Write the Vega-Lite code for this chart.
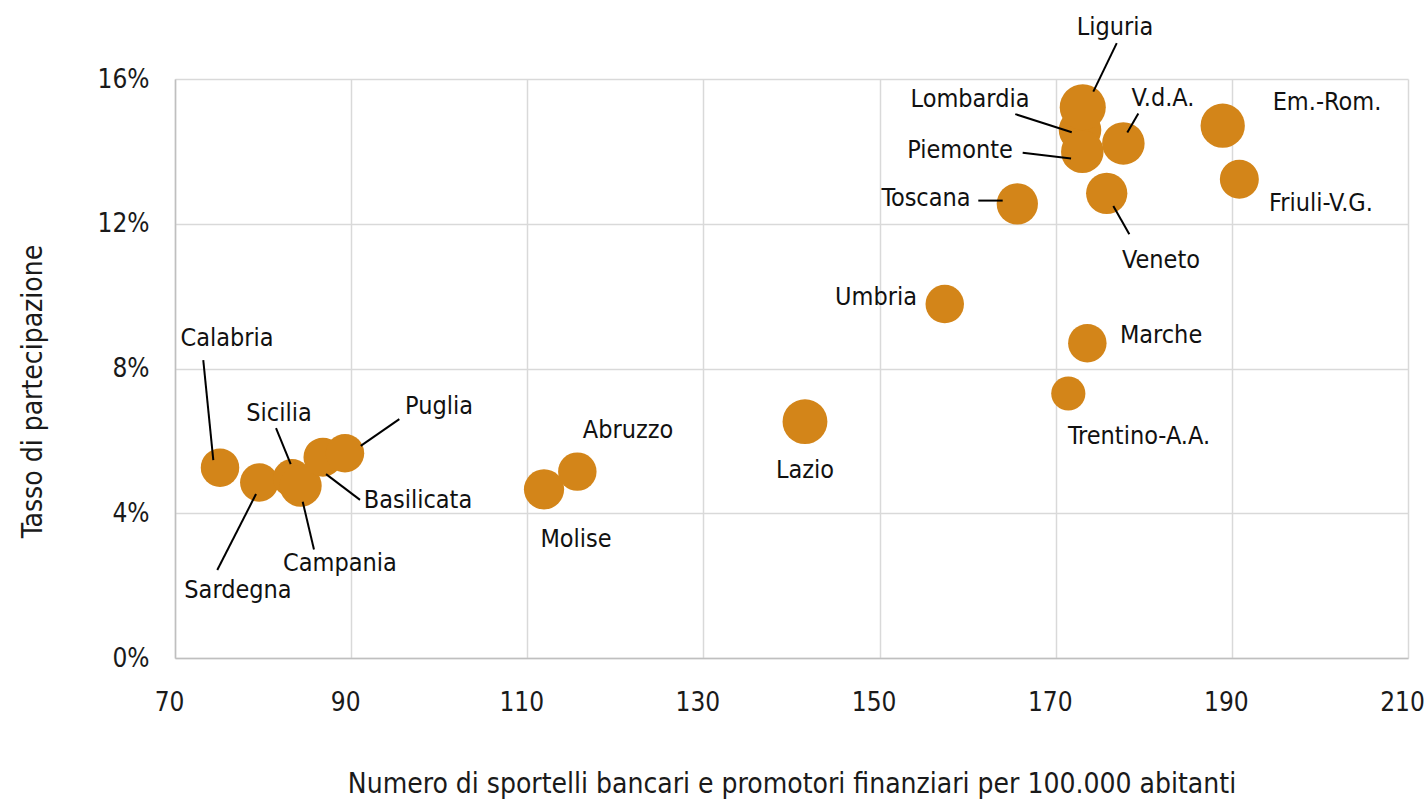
{
  "$schema": "https://vega.github.io/schema/vega-lite/v6.json",
  "autosize": "none",
  "width": 1233,
  "height": 579,
  "padding": {"left": 175, "top": 79, "right": 19, "bottom": 145},
  "background": "white",
  "config": {
    "view": {"stroke": null},
    "font": "DejaVu Sans Condensed, Liberation Sans Narrow, Roboto Condensed, sans-serif",
    "axis": {"labelFont": "DejaVu Sans Condensed, Liberation Sans Narrow, Roboto Condensed, sans-serif", "titleFont": "DejaVu Sans Condensed, Liberation Sans Narrow, Roboto Condensed, sans-serif", "labelColor": "#1a1a1a", "titleColor": "#1a1a1a", "titleFontWeight": "normal"}
  },
  "datasets": {
    "regioni": [
      {"regione": "Calabria", "sportelli": 75.11, "tasso": 0.0526, "dim": 471, "lx": 75.9, "ly": 0.0884},
      {"regione": "Sardegna", "sportelli": 79.57, "tasso": 0.0485, "dim": 471, "lx": 77.15, "ly": 0.0188},
      {"regione": "Sicilia", "sportelli": 83.28, "tasso": 0.0497, "dim": 462, "lx": 81.81, "ly": 0.0677},
      {"regione": "Campania", "sportelli": 84.27, "tasso": 0.0476, "dim": 562, "lx": 88.73, "ly": 0.0263},
      {"regione": "Basilicata", "sportelli": 86.8, "tasso": 0.0555, "dim": 484, "lx": 97.59, "ly": 0.0437},
      {"regione": "Puglia", "sportelli": 89.3, "tasso": 0.0566, "dim": 471, "lx": 99.98, "ly": 0.0696},
      {"regione": "Molise", "sportelli": 111.9, "tasso": 0.0466, "dim": 515, "lx": 115.53, "ly": 0.0329},
      {"regione": "Abruzzo", "sportelli": 115.68, "tasso": 0.0515, "dim": 471, "lx": 121.44, "ly": 0.063},
      {"regione": "Lazio", "sportelli": 141.53, "tasso": 0.0653, "dim": 640, "lx": 141.53, "ly": 0.0519},
      {"regione": "Umbria", "sportelli": 157.4, "tasso": 0.0978, "dim": 471, "lx": 149.6, "ly": 0.0998},
      {"regione": "Toscana", "sportelli": 165.64, "tasso": 0.1255, "dim": 543, "lx": 155.27, "ly": 0.1271},
      {"regione": "Trentino-A.A.", "sportelli": 171.43, "tasso": 0.0731, "dim": 372, "lx": 179.46, "ly": 0.0613},
      {"regione": "Marche", "sportelli": 173.59, "tasso": 0.087, "dim": 471, "lx": 181.96, "ly": 0.0893},
      {"regione": "Lombardia", "sportelli": 172.76, "tasso": 0.1459, "dim": 576, "lx": 160.27, "ly": 0.1545},
      {"regione": "Piemonte", "sportelli": 173.02, "tasso": 0.1399, "dim": 576, "lx": 159.13, "ly": 0.1404},
      {"regione": "Liguria", "sportelli": 173.07, "tasso": 0.1522, "dim": 676, "lx": 176.73, "ly": 0.1744},
      {"regione": "V.d.A.", "sportelli": 177.68, "tasso": 0.1422, "dim": 576, "lx": 182.18, "ly": 0.1547},
      {"regione": "Veneto", "sportelli": 175.79, "tasso": 0.1284, "dim": 543, "lx": 181.96, "ly": 0.11},
      {"regione": "Em.-Rom.", "sportelli": 188.96, "tasso": 0.1471, "dim": 625, "lx": 200.8, "ly": 0.1536},
      {"regione": "Friuli-V.G.", "sportelli": 190.85, "tasso": 0.1323, "dim": 484, "lx": 200.12, "ly": 0.1257}
    ],
    "richiami": [
      {"regione": "Calabria", "x1": 73.21, "y1": 0.0823, "x2": 74.35, "y2": 0.0547},
      {"regione": "Sicilia", "x1": 81.47, "y1": 0.0635, "x2": 83.14, "y2": 0.0536},
      {"regione": "Puglia", "x1": 95.47, "y1": 0.066, "x2": 91.09, "y2": 0.0586},
      {"regione": "Basilicata", "x1": 91.01, "y1": 0.0437, "x2": 87.15, "y2": 0.0508},
      {"regione": "Campania", "x1": 85.78, "y1": 0.03, "x2": 84.5, "y2": 0.0432},
      {"regione": "Sardegna", "x1": 74.8, "y1": 0.0243, "x2": 79.2, "y2": 0.0453},
      {"regione": "Toscana", "x1": 161.21, "y1": 0.1264, "x2": 163.98, "y2": 0.1264},
      {"regione": "Piemonte", "x1": 166.25, "y1": 0.1396, "x2": 171.74, "y2": 0.138},
      {"regione": "Lombardia", "x1": 165.41, "y1": 0.1503, "x2": 171.82, "y2": 0.1453},
      {"regione": "Liguria", "x1": 176.93, "y1": 0.1699, "x2": 174.27, "y2": 0.1565},
      {"regione": "V.d.A.", "x1": 179.38, "y1": 0.1505, "x2": 178.13, "y2": 0.1452},
      {"regione": "Veneto", "x1": 176.54, "y1": 0.1249, "x2": 178.36, "y2": 0.1171}
    ]
  },
  "layer": [
    {
      "data": {"name": "regioni"},
      "mark": {"type": "circle", "color": "#D38519", "opacity": 1},
      "encoding": {
        "x": {"field": "sportelli", "type": "quantitative",
          "scale": {"domain": [70, 210], "nice": false, "zero": false},
          "axis": {"values": [70, 90, 110, 130, 150, 170, 190, 210], "title": "Numero di sportelli bancari e promotori finanziari per 100.000 abitanti",
            "labelFontSize": 26, "titleFontSize": 28, "ticks": false, "labelPadding": 31, "labelFlush": false, "labelOffset": -6, "domainColor": "#bfbfbf", "domainWidth": 1.5,
            "gridColor": "#d9d9d9", "gridWidth": 1.5, "grid": true, "titleY": 126, "titleBaseline": "middle"}},
        "y": {"field": "tasso", "type": "quantitative",
          "scale": {"domain": [0, 0.16], "nice": false},
          "axis": {"values": [0, 0.04, 0.08, 0.12, 0.16], "format": ".0%", "title": "Tasso di partecipazione",
            "labelFontSize": 26, "titleFontSize": 28, "ticks": false, "labelPadding": 26, "labelFlush": false, "domainColor": "#bfbfbf", "domainWidth": 1.5,
            "gridColor": "#d9d9d9", "gridWidth": 1.5, "grid": true,
            "titleX": -142, "titleY": 312, "titleAngle": -90, "titleAlign": "center", "titleBaseline": "middle"}},
        "size": {"field": "dim", "type": "quantitative", "legend": null,
          "scale": {"domain": [0, 1000], "range": [0, 3142], "zero": true}}
      }
    },
    {
      "data": {"name": "richiami"},
      "mark": {"type": "rule", "color": "#000000", "strokeWidth": 2},
      "encoding": {
        "x": {"field": "x1", "type": "quantitative"},
        "y": {"field": "y1", "type": "quantitative"},
        "x2": {"field": "x2"},
        "y2": {"field": "y2"}
      }
    },
    {
      "data": {"name": "regioni"},
      "mark": {"type": "text", "fontSize": 25, "color": "#111111", "align": "center", "baseline": "middle"},
      "encoding": {
        "x": {"field": "lx", "type": "quantitative"},
        "y": {"field": "ly", "type": "quantitative"},
        "text": {"field": "regione"}
      }
    }
  ]
}
